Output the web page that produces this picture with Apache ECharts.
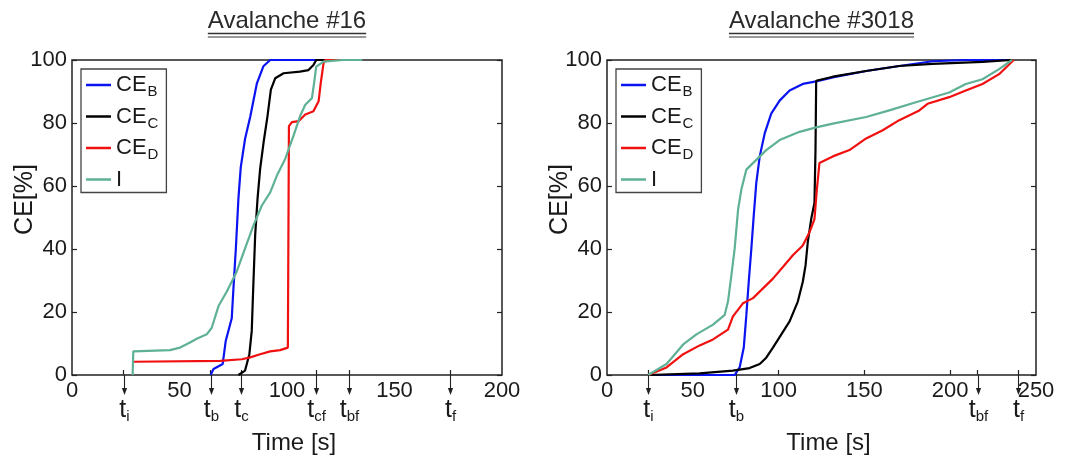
<!DOCTYPE html>
<html><head><meta charset="utf-8">
<script src="https://cdn.jsdelivr.net/npm/echarts@6/dist/echarts.min.js"></script>
<style>html,body{margin:0;padding:0;background:#fff}#c{width:1067px;height:460px}</style>
</head><body><div id="c"></div>
<script>
// ---------- DATA ----------
const titles = ['Avalanche #16', 'Avalanche #3018'];
const seriesNames = ['CE_B', 'CE_C', 'CE_D', 'I'];
const xTickMax = [200, 250];
const xTickStep = 50;
const yTicks = [0, 20, 40, 60, 80, 100];

// Avalanche #16  ([time s, CE %])
const a16_CEB = [[64.5,0],[65.8,1.9],[70.1,3.5],[71.5,10.8],[74.3,18],[75.1,27.6],[76.2,40],[77.4,56],[78.5,66],[80.5,75],[82.9,82],[86,92.6],[89,98],[92.2,100],[130,100]];
const a16_CEC = [[77.4,0],[80.5,1.4],[82.5,6.6],[83.6,14],[84.4,29.7],[85.2,44.4],[86.3,56],[87.5,65.4],[89.1,73.8],[90.9,82],[92.5,90.6],[94.5,94.2],[98.4,95.8],[106,96.3],[110,96.8],[112.3,98.4],[113.6,100],[130,100]];
const a16_CED = [[28.6,4.2],[68.9,4.5],[79,5.0],[82.9,5.6],[87.5,6.6],[92.2,7.5],[96.8,7.9],[100.4,8.7],[100.9,79],[102.3,80.3],[105.4,80.6],[108.5,82.7],[112.3,83.7],[114.7,86.9],[115.7,92.7],[117,99],[117.8,100],[130,100]];
const a16_I = [[28.2,0],[28.5,7.5],[45.6,7.9],[50.3,8.7],[54.9,10.3],[58,11.5],[62.7,12.9],[65,15],[68.1,21.8],[72,26.5],[76.6,32.8],[80.5,40.2],[84.4,47.5],[88.3,53.8],[92.2,58],[95.3,63.3],[99.1,68.5],[103,75.9],[106.1,82.2],[108.5,85.8],[111.6,87.9],[112.6,92.7],[113.6,97.9],[117,99.5],[126,100],[135,100]];
const a16_tTimes = [24, 64.5, 78.5, 113.5, 129, 176];
const a16_tSubs = ['i', 'b', 'c', 'cf', 'bf', 'f'];

// Avalanche #3018
const a3018_CEB = [[24,0],[74.4,0],[77.3,2.4],[79.7,8.7],[81.2,19],[82.6,29.6],[84.1,40],[85.5,50.5],[87,61],[89,69.4],[91.9,76.7],[95.7,83],[100.6,87.1],[106.4,90.3],[114.1,92.4],[121.9,93.2],[131.6,94.5],[151,96.5],[170.3,98.1],[189.7,99.6],[210,100],[236,100]];
const a3018_CEC = [[24,0],[54,0.5],[73.4,1.4],[83.1,2.2],[89,3.5],[92.8,5.5],[96.7,8.7],[101.6,12.9],[106.4,17],[111.2,23.3],[114.1,29.6],[115.7,34.8],[117,42.2],[119,49.5],[120.9,54.7],[121.5,71.4],[121.9,93.4],[131.6,94.7],[151,96.5],[170.3,98.1],[189.7,98.8],[218.8,99.4],[236,100]];
const a3018_CED = [[24,0],[34.7,2.4],[44.4,6.6],[54,9.4],[61.8,11.3],[70.5,14.4],[73.4,18.6],[79.3,22.8],[85.1,24.4],[90.9,27.5],[96.7,30.6],[102.5,34.3],[108.3,38],[114.1,41.1],[118,45.3],[120.9,49.5],[122.3,58.9],[123.8,67.3],[131.6,69.4],[141.3,71.4],[151,75.1],[160.7,77.7],[170.3,80.9],[182,84],[186.8,86.1],[199.4,88.2],[209.1,90.3],[218.8,92.4],[228.5,95.5],[237,100]];
const a3018_I = [[24,0],[34.7,3.5],[44.4,9.7],[52.1,12.9],[61.8,16],[68.6,19.1],[70.5,23.3],[72.5,31.7],[74.4,40.1],[76.4,52.6],[78.3,58.9],[81.2,65.2],[87,68.3],[92.8,71.4],[100.6,74.6],[112.2,77.2],[121.9,78.6],[131.6,79.8],[151,81.9],[164.5,84],[180,86.6],[199.4,89.7],[209.1,92.4],[218.8,93.9],[228.5,97.1],[236,100]];
const a3018_tTimes = [24, 75.4, 216, 239.7];
const a3018_tSubs = ['i', 'b', 'bf', 'f'];

// ---------- STYLE / LAYOUT ----------
const FONT = "'Liberation Sans', Arial, Helvetica, sans-serif";
const TXT = '#1a1a1a';
const colors = { 'CE_B': '#0a14f0', 'CE_C': '#000000', 'CE_D': '#f01010', 'I': '#5fb195' };
const panels = [
  { title: titles[0], xMax: xTickMax[0], grid: { left: 72, top: 60, width: 430, height: 318 },
    lines: [a16_CEB, a16_CEC, a16_CED, a16_I], tTimes: a16_tTimes, tSubs: a16_tSubs, extraTicks: [],
    legendLeft: 81 },
  { title: titles[1], xMax: xTickMax[1], grid: { left: 607, top: 60, width: 429, height: 318 },
    lines: [a3018_CEB, a3018_CEC, a3018_CED, a3018_I], tTimes: a3018_tTimes, tSubs: a3018_tSubs, extraTicks: [100, 150, 200],
    legendLeft: 616 }
];

function legendFmt(name) {
  const p = name.split('_');
  return p.length > 1 ? '{a|' + p[0] + '}{b|' + p[1] + '}' : '{a|' + p[0] + '}';
}

const option = { animation: false, backgroundColor: '#fff', grid: [], xAxis: [], yAxis: [], series: [], legend: [], graphic: [] };

const measCtx = document.createElement('canvas').getContext('2d');

panels.forEach((P, i) => {
  option.grid.push(Object.assign({ show: true, borderColor: '#222', borderWidth: 1.5, backgroundColor: 'transparent' }, P.grid));
  option.xAxis.push({
    gridIndex: i, type: 'value', min: 0, max: P.xMax, interval: xTickStep,
    axisLine: { show: false }, splitLine: { show: false },
    axisTick: { show: true, inside: true, length: 5, customValues: P.tTimes.concat(P.extraTicks), lineStyle: { color: '#222', width: 1.2 } },
    axisLabel: { fontSize: 22, color: TXT, fontFamily: FONT, margin: 5, showMaxLabel: true, showMinLabel: true },
    name: 'Time [s]', nameLocation: 'middle', nameGap: 56, nameMoveOverlap: false,
    nameTextStyle: { fontSize: 24, color: TXT, fontFamily: FONT, padding: [0, 0, 0, 14] }
  });
  option.yAxis.push({
    gridIndex: i, type: 'value', min: 0, max: 100, interval: 20,
    axisLine: { show: false }, splitLine: { show: false },
    axisTick: { show: true, inside: true, length: 5, lineStyle: { color: '#222', width: 1.2 } },
    axisLabel: { fontSize: 22, color: TXT, fontFamily: FONT, margin: 5 },
    name: 'CE[%]', nameLocation: 'middle', nameGap: 34, nameRotate: 90, nameMoveOverlap: false,
    nameTextStyle: { fontSize: 25, color: TXT, fontFamily: FONT, padding: [0, 0, 0, 36] }
  });
  option.yAxis.push({
    gridIndex: i, type: 'value', min: 0, max: 100, interval: 20, position: 'right',
    axisLine: { show: false }, splitLine: { show: false }, axisLabel: { show: false },
    axisTick: { show: true, inside: true, length: 5, lineStyle: { color: '#222', width: 1.2 } }
  });
  P.lines.forEach((d, k) => {
    const nm = seriesNames[k];
    option.series.push({
      type: 'line', name: nm, xAxisIndex: i, yAxisIndex: i * 2, data: d,
      showSymbol: false, symbol: 'none', clip: true,
      lineStyle: { color: colors[nm], width: 2.2 }, itemStyle: { color: colors[nm] }, z: 3 + k
    });
  });
  // time-marker arrows below the axis
  option.series.push({
    type: 'custom', xAxisIndex: i, yAxisIndex: i * 2, clip: false, silent: true, z: 10,
    data: P.tTimes.map((t, k) => [t, k]),
    renderItem: function (params, api) {
      const p = api.coord([api.value(0), 0]);
      const sub = P.tSubs[api.value(1)];
      const x = Math.round(p[0]) + 0.5, y = p[1];
      return { type: 'group', children: [
        { type: 'line', shape: { x1: x, y1: y, x2: x, y2: y + 18 }, style: { stroke: '#222', lineWidth: 1.1 } },
        { type: 'polygon', shape: { points: [[x - 2.6, y + 13], [x + 2.6, y + 13], [x, y + 20]] }, style: { fill: '#222' } },
        { type: 'text', x: x, y: y + 22, style: {
            text: '{t|t}{s|' + sub + '}', align: 'center', verticalAlign: 'top',
            rich: { t: { fontSize: 25, fontFamily: FONT, fill: TXT, color: TXT },
                    s: { fontSize: 15, fontFamily: FONT, fill: TXT, color: TXT, padding: [12, 0, 0, 0] } } } }
      ] };
    }
  });
  option.legend.push({
    left: P.legendLeft, top: 69, orient: 'vertical', data: seriesNames,
    icon: 'rect', itemWidth: 25, itemHeight: 2.5, itemGap: 6,
    borderColor: '#444', borderWidth: 1.3, padding: [5, 8, 2, 5], backgroundColor: '#fff',
    selectedMode: false, formatter: legendFmt,
    textStyle: { fontFamily: FONT, color: TXT, rich: {
      a: { fontSize: 22, fontFamily: FONT, color: TXT },
      b: { fontSize: 15, fontFamily: FONT, color: TXT, padding: [14, 0, 0, 1] } } }
  });
  // title with double underline
  measCtx.font = '24px ' + FONT;
  const w = measCtx.measureText(P.title).width;
  const cx = P.grid.left + P.grid.width / 2;
  option.graphic.push({ type: 'group', children: [
    { type: 'text', x: cx, y: 21, style: { text: P.title, font: '24px ' + FONT, fill: '#2a2a2a', align: 'center', verticalAlign: 'middle' } },
    { type: 'line', shape: { x1: cx - w / 2, y1: 33.5, x2: cx + w / 2, y2: 33.5 }, style: { stroke: '#333', lineWidth: 1.4 } },
    { type: 'line', shape: { x1: cx - w / 2, y1: 37, x2: cx + w / 2, y2: 37 }, style: { stroke: '#999', lineWidth: 2 } }
  ] });
});

const chart = echarts.init(document.getElementById('c'));
chart.setOption(option);
</script></body></html>
